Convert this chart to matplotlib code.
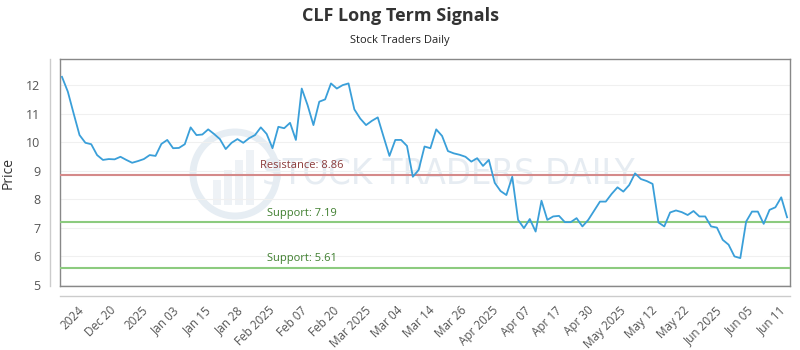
#Importing basic libraries
import numpy as np
import matplotlib
matplotlib.use('Agg')
import matplotlib.pyplot as plt
import matplotlib.transforms as mtransforms
from matplotlib.patches import Circle

plt.rcParams['font.family'] = ['Open Sans', 'DejaVu Sans']

#Price series (one value per trading day)
prices = [12.29, 11.77, 11.0, 10.25, 9.98, 9.93, 9.55, 9.38, 9.41, 9.40, 9.49, 9.38,
          9.28, 9.34, 9.41, 9.55, 9.52, 9.94, 10.08, 9.79, 9.80, 9.93, 10.52, 10.25,
          10.27, 10.45, 10.29, 10.11, 9.76, 9.98, 10.11, 9.98,
          10.14, 10.25, 10.52, 10.29, 9.79, 10.54, 10.49, 10.68, 10.08, 11.88, 11.30, 10.60,
          11.42, 11.50, 12.06, 11.88, 12.0, 12.06, 11.15, 10.83, 10.60, 10.75, 10.87, 10.19,
          9.52, 10.08, 10.08, 9.87, 8.79, 9.03, 9.85, 9.79,
          10.45, 10.22, 9.69, 9.61, 9.56, 9.49, 9.32, 9.44, 9.17, 9.38, 8.58, 8.29,
          8.15, 8.79, 7.28, 6.99, 7.31, 6.87, 7.95, 7.28, 7.40, 7.42, 7.20, 7.20,
          7.34, 7.05, 7.28, 7.60, 7.92, 7.92,
          8.19, 8.42, 8.27, 8.50, 8.91, 8.71, 8.64, 8.54, 7.19, 7.05, 7.54, 7.61,
          7.55, 7.45, 7.59, 7.40, 7.40, 7.05, 7.01, 6.58, 6.41, 6.00, 5.94, 7.22,
          7.57, 7.57, 7.14, 7.63, 7.72, 8.07, 7.37]

tick_labels = ['2024', 'Dec 20', '2025', 'Jan 03', 'Jan 15', 'Jan 28', 'Feb 2025',
               'Feb 07', 'Feb 20', 'Mar 2025', 'Mar 04', 'Mar 14', 'Mar 26', 'Apr 2025',
               'Apr 07', 'Apr 17', 'Apr 30', 'May 2025', 'May 12', 'May 22', 'Jun 2025',
               'Jun 05', 'Jun 11']

resistance = [8.86]
supports = [7.19, 5.61]
y_ticks = [5, 6, 7, 8, 9, 10, 11, 12]

x = np.arange(len(prices))

fig = plt.figure(figsize=(8, 3.5), dpi=100)
ax = fig.add_axes([0.075, 0.183, 0.9125, 0.648])

#watermark (logo ring + name)
ax.add_patch(Circle((2.35, 1.76), 0.42, transform=fig.dpi_scale_trans, facecolor='none',
                    edgecolor='#e6edf3', lw=5, zorder=0))
for bx, bh in zip([2.13, 2.24, 2.35, 2.46], [0.25, 0.35, 0.45, 0.55]):
    ax.add_patch(plt.Rectangle((bx, 1.45), 0.08, bh, transform=fig.dpi_scale_trans,
                               facecolor='#eef2f6', edgecolor='none', zorder=0))
ax.text(4.48, 1.76, 'STOCK TRADERS DAILY', transform=fig.dpi_scale_trans, ha='center',
        va='center', fontsize=26, color='#e6ecf2', family='DejaVu Sans',
        fontstretch='condensed', zorder=0)

#grid
for v in y_ticks:
    ax.axhline(v, color='#f0f0f0', lw=0.8, zorder=1)

#price line
ax.plot(x, prices, color='#3a9fd9', lw=1.3, zorder=4)

#signal lines
trans = mtransforms.blended_transform_factory(ax.transAxes, ax.transData)
for r in resistance:
    ax.axhline(r, color='#d58a8a', lw=1.5, zorder=3)
    ax.text(0.331, r + 0.13, 'Resistance: %.2f' % r, transform=trans, ha='center',
            va='bottom', fontsize=8, color='#8b3a3a', zorder=5)
for s in supports:
    ax.axhline(s, color='#8ccb7f', lw=1.5, zorder=3)
    ax.text(0.331, s + 0.13, 'Support: %.2f' % s, transform=trans, ha='center',
            va='bottom', fontsize=8, color='#3f7f2f', zorder=5)

ax.set_xlim(-0.34, 124.5)
ax.set_ylim(4.965, 12.91)
ax.set_yticks(y_ticks)
ax.set_xticks(np.linspace(2.6, 122.6, len(tick_labels)))
ax.set_xticklabels(tick_labels, rotation=45, ha='right', rotation_mode='anchor')
ax.tick_params(axis='x', length=0, pad=13, labelsize=8.5, labelcolor='#555555')
ax.tick_params(axis='y', length=0, pad=14, labelsize=9, labelcolor='#555555')

for sp in ax.spines.values():
    sp.set_color('#888888')
    sp.set_linewidth(1)

#separate axis lines outside plot box
fig.add_artist(plt.Line2D([0.0625, 0.0625], [0.183, 0.831], color='#cccccc', lw=1))
fig.add_artist(plt.Line2D([0.075, 0.9875], [0.154, 0.154], color='#cccccc', lw=1))

ax.set_ylabel('Price', fontsize=10, color='#333333', labelpad=8)
fig.text(0.5, 0.955, 'CLF Long Term Signals', ha='center', va='center', fontsize=13,
         fontweight='bold', color='#333333')
fig.text(0.5, 0.885, 'Stock Traders Daily', ha='center', va='center', fontsize=8,
         color='#222222')

plt.savefig('out.png', dpi=100)
